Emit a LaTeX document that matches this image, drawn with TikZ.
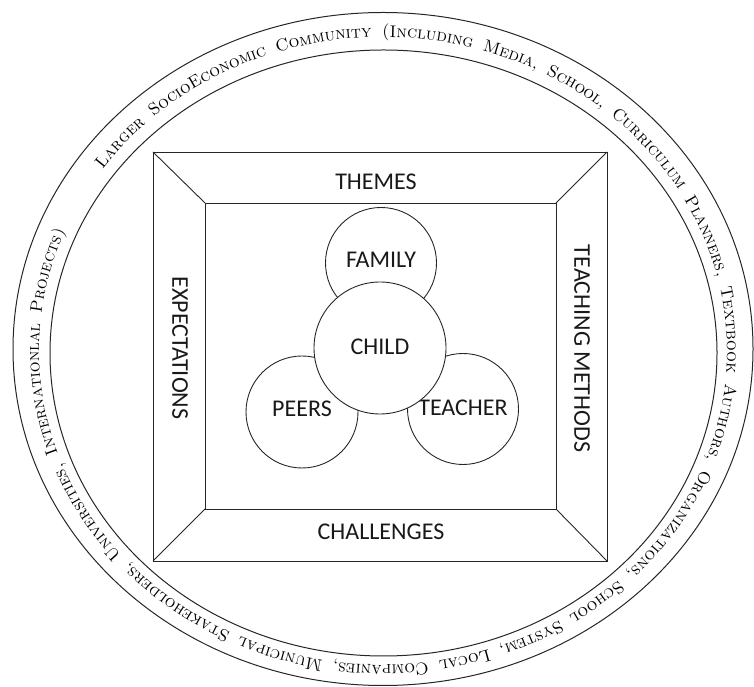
\documentclass[tikz,border=0pt]{standalone}
\usepackage{fontspec}
\newfontfamily\labelfont{Carlito}
\usetikzlibrary{decorations.text}
\begin{document}
\begin{tikzpicture}[x=1pt,y=1pt,
  ring/.style={draw=black!85, line width=1pt},
  frameline/.style={draw=black!85, line width=0.9pt},
  bubble/.style={circle, draw=black!85, line width=0.9pt, inner sep=0pt,
    font=\labelfont\fontsize{24}{28}\selectfont, text=black!90},
  framelabel/.style={font=\labelfont\fontsize{24}{28}\selectfont, inner sep=0pt, text=black!90}]
\useasboundingbox (0,0) rectangle (754,687);
% rings
\draw[ring] (383,338) ellipse [x radius=370, y radius=336.5];
\draw[ring] (383.5,334) ellipse [x radius=333.5, y radius=303];
\path[decorate, decoration={text along path,
  text={|\fontsize{17}{20}\selectfont\scshape|Larger SocioEconomic Community (Including Media, School, Curriculum Planners, Textbook Authors, Organizations, School System, Local Companies, Municipal Stakeholders, Universities, Internationlal Projects)},
  text align={fit to path stretching spaces}}]
  (383,336) ++(144.6:344 and 314) arc[start angle=144.6, end angle=-202.4, x radius=344, y radius=314];
% frame
\coordinate (o1) at (153,126);
\coordinate (o2) at (607,126);
\coordinate (o3) at (607,535);
\coordinate (o4) at (153,535);
\coordinate (i1) at (205,178);
\coordinate (i2) at (556,178);
\coordinate (i3) at (556,484);
\coordinate (i4) at (205,484);
\draw[frameline] (o1) rectangle (o3);
\draw[frameline] (i1) rectangle (i3);
\draw[frameline] (o1) -- (i1) (o2) -- (i2) (o3) -- (i3) (o4) -- (i4);
\node[framelabel] (themes) at (376,505) {THEMES};
\node[framelabel] (challenges) at (381,155) {CHALLENGES};
\node[framelabel, rotate=-90] (expect) at (180,339) {EXPECTATIONS};
\node[framelabel, rotate=-90] (methods) at (582,338.5) {TEACHING METHODS};
% circles
\node[bubble, minimum size=111pt, text depth=7pt] (family) at (381,424) {FAMILY};
\node[bubble, minimum size=112pt, text depth=7pt] (peers) at (302,275) {PEERS};
\node[bubble, minimum size=111pt, text depth=2pt] (teacher) at (463,278) {TEACHER};
\node[bubble, minimum size=132pt, text depth=2pt, fill=white] (child) at (380,339) {CHILD};
\end{tikzpicture}
\end{document}
